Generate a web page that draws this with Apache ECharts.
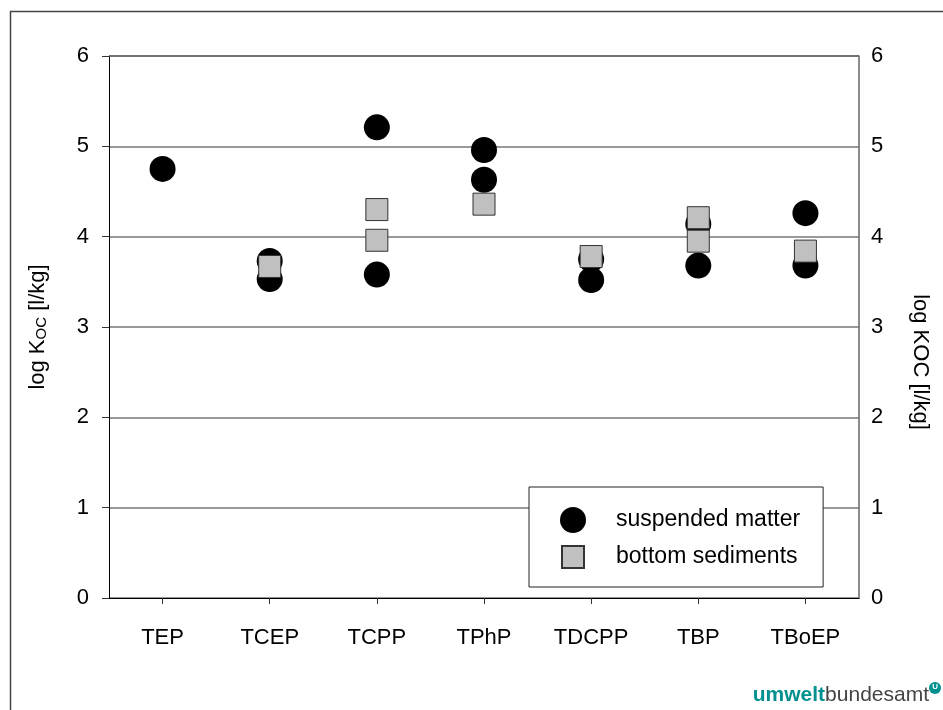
<!DOCTYPE html>
<html>
<head>
<meta charset="utf-8">
<script src="https://cdn.jsdelivr.net/npm/echarts@6/dist/echarts.min.js"></script>
<style>html,body{margin:0;padding:0;background:#fff}#c{width:943px;height:710px}</style>
</head>
<body>
<div id="c"></div>
<script>
const categories = ['TEP', 'TCEP', 'TCPP', 'TPhP', 'TDCPP', 'TBP', 'TBoEP'];
const yTicks = [0, 1, 2, 3, 4, 5, 6];
const suspendedMatter = [
  ['TEP', 4.75],
  ['TCEP', 3.73], ['TCEP', 3.53],
  ['TCPP', 5.21], ['TCPP', 3.58],
  ['TPhP', 4.96], ['TPhP', 4.63],
  ['TDCPP', 3.75], ['TDCPP', 3.52],
  ['TBP', 4.14], ['TBP', 3.68],
  ['TBoEP', 4.26], ['TBoEP', 3.68]
];
const bottomSediments = [
  ['TCEP', 3.67],
  ['TCPP', 4.30], ['TCPP', 3.96],
  ['TPhP', 4.36],
  ['TDCPP', 3.78],
  ['TBP', 4.21], ['TBP', 3.95],
  ['TBoEP', 3.84]
];

const FONT = 'Liberation Sans, Arial, sans-serif';
const chart = echarts.init(document.getElementById('c'), null, {renderer: 'canvas'});
chart.setOption({
  animation: false,
  backgroundColor: '#fff',
  grid: {left: 109, top: 56, right: 84, bottom: 112, show: false},
  legend: {
    orient: 'vertical',
    left: 529, top: 487,
    padding: [20, 23, 16, 30],
    itemWidth: 60, itemHeight: 26, itemGap: 10,
    backgroundColor: '#fff',
    borderColor: '#222', borderWidth: 1,
    textStyle: {fontFamily: FONT, fontSize: 23, color: '#000', padding: [0, 0, 0, 8]},
    data: [
      {name: 'suspended matter', icon: 'circle'},
      {name: 'bottom sediments', icon: 'path://M0,0M26,26M2,2h22v22h-22z'}
    ]
  },
  xAxis: {
    type: 'category',
    data: categories,
    boundaryGap: true,
    axisLine: {show: true, lineStyle: {color: '#000', width: 1}},
    axisTick: {show: true, alignWithLabel: true, length: 6, lineStyle: {color: '#333'}},
    axisLabel: {fontFamily: FONT, fontSize: 22, color: '#000', margin: 29},
    splitLine: {show: false}
  },
  yAxis: [{
    type: 'value', min: 0, max: 6, interval: 1, position: 'left',
    name: '{a|log K}{b|OC}{a| [l/kg]}',
    nameLocation: 'middle', nameGap: 60, nameRotate: 90,
    nameTextStyle: {rich: {
      a: {fontFamily: FONT, fontSize: 22, color: '#000'},
      b: {fontFamily: FONT, fontSize: 15, color: '#000', verticalAlign: 'bottom', padding: [6, 0, 0, 0]}
    }},
    axisLine: {show: true, lineStyle: {color: '#000', width: 1}},
    axisTick: {show: true, length: 7, lineStyle: {color: '#333'}},
    axisLabel: {fontFamily: FONT, fontSize: 22, color: '#000', margin: 20,
      formatter: v => yTicks.includes(v) ? String(v) : ''},
    splitLine: {show: true, lineStyle: {color: '#777', width: 1.5}}
  }, {
    type: 'value', min: 0, max: 6, interval: 1, position: 'right',
    name: 'log KOC [l/kg]',
    nameLocation: 'middle', nameGap: 50, nameRotate: -90,
    nameTextStyle: {fontFamily: FONT, fontSize: 22, color: '#000', padding: [0, 0, 0, 70]},
    axisLine: {show: true, lineStyle: {color: '#666', width: 1.5}},
    axisTick: {show: false},
    axisLabel: {fontFamily: FONT, fontSize: 22, color: '#000', margin: 12},
    splitLine: {show: false}
  }],
  graphic: [
    {type: 'rect', silent: true, z: -10, shape: {x: 10.5, y: 11.5, width: 1000, height: 800},
      style: {fill: 'none', stroke: '#444', lineWidth: 1.5}},
    {type: 'line', silent: true, z: 1, shape: {x1: 109, y1: 56, x2: 859, y2: 56},
      style: {stroke: '#666', lineWidth: 1.5}},
    {type: 'text', right: 14, bottom: 4, silent: true,
      style: {text: '{u|umwelt}{b|bundesamt}', rich: {
        u: {fontFamily: FONT, fontSize: 21, fontWeight: 'bold', fill: '#00918f'},
        b: {fontFamily: FONT, fontSize: 21, fill: '#444'}
      }}},
    {type: 'circle', right: 2, bottom: 16, silent: true, shape: {r: 6},
      style: {fill: '#00918f'}},
    {type: 'text', right: 5, bottom: 19, silent: true,
      style: {text: 'U', fontFamily: FONT, fontSize: 8, fontWeight: 'bold', fill: '#fff'}}
  ],
  series: [{
    name: 'suspended matter', type: 'scatter', data: suspendedMatter,
    symbol: 'circle', symbolSize: 26, z: 2,
    itemStyle: {color: '#000', opacity: 1}
  }, {
    name: 'bottom sediments', type: 'scatter', data: bottomSediments,
    symbol: 'rect', symbolSize: 22, z: 3,
    itemStyle: {color: '#c0c0c0', borderColor: '#333', borderWidth: 1, opacity: 1}
  }]
});
</script>
</body>
</html>
